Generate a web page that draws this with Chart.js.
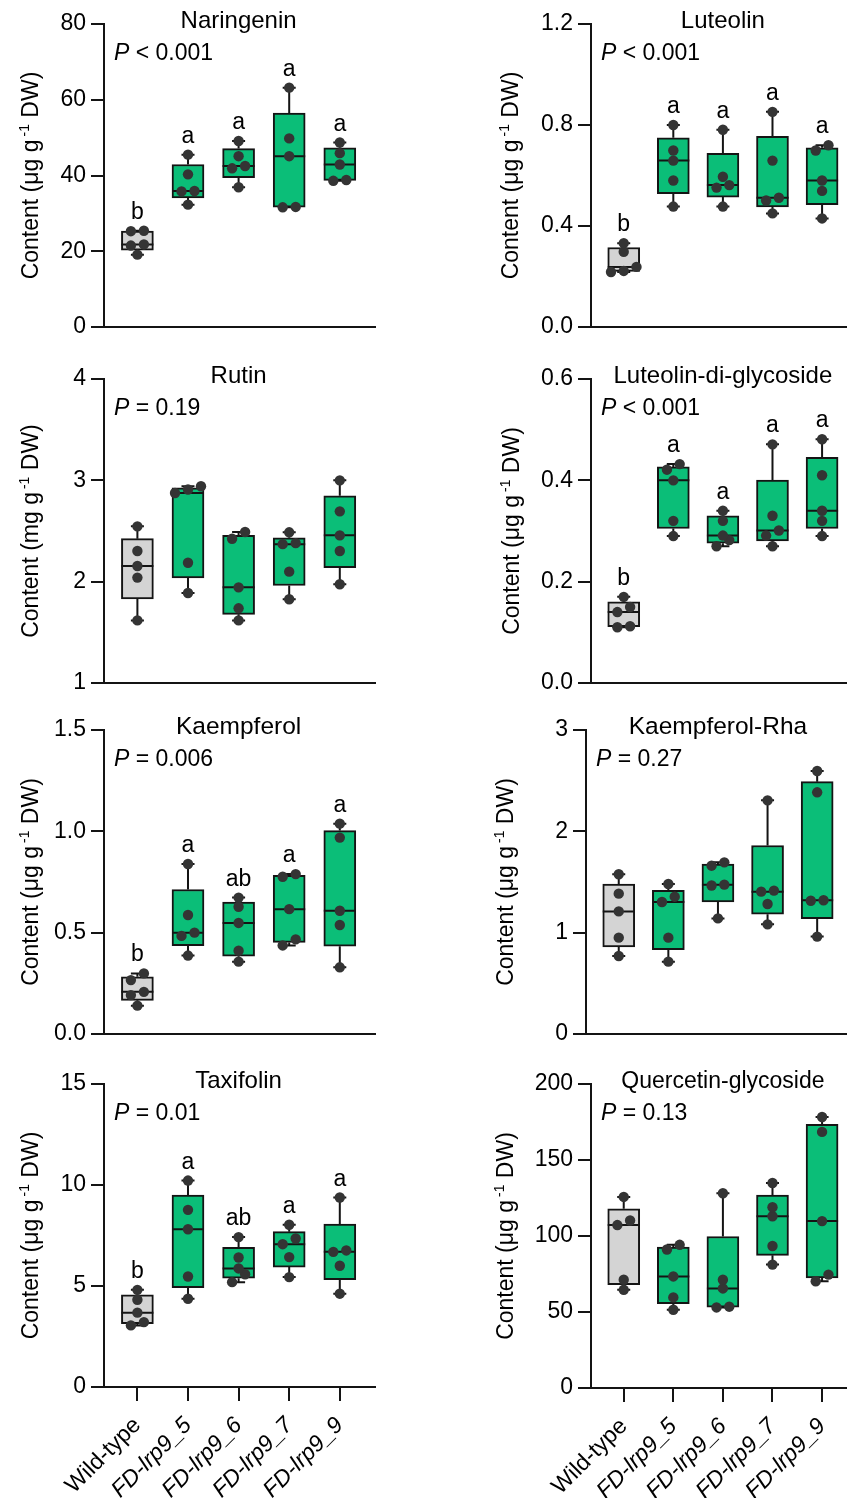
<!DOCTYPE html>
<html>
<head>
<meta charset="utf-8">
<script src="https://cdn.jsdelivr.net/npm/chart.js@4.4.1/dist/chart.umd.min.js"></script>
<style>
  body { margin: 0; background: #fff; }
  #page { position: relative; width: 851px; height: 1498px; overflow: hidden; background: #fff; }
  canvas { position: absolute; }
</style>
</head>
<body>
<div id="page"></div>
<script>
// groups on the x axis
const groups = ["Wild-type", "FD-lrp9_5", "FD-lrp9_6", "FD-lrp9_7", "FD-lrp9_9"];

// five replicates per group
const naringenin = [
  [19.1, 21.5, 21.8, 25.3, 25.4],
  [32.3, 35.8, 35.9, 40.3, 45.5],
  [36.9, 41.9, 42.5, 45.1, 49.1],
  [31.6, 31.7, 45.1, 49.8, 63.2],
  [38.6, 38.8, 42.9, 45.9, 48.7]
];
const luteolin = [
  [0.218, 0.222, 0.238, 0.298, 0.332],
  [0.477, 0.580, 0.659, 0.699, 0.800],
  [0.477, 0.552, 0.562, 0.595, 0.781],
  [0.450, 0.501, 0.512, 0.659, 0.852],
  [0.430, 0.539, 0.580, 0.699, 0.720]
];
const rutin = [
  [1.618, 2.040, 2.155, 2.303, 2.546],
  [1.888, 2.187, 2.875, 2.910, 2.942],
  [1.618, 1.737, 1.944, 2.424, 2.490],
  [1.826, 2.099, 2.370, 2.380, 2.487],
  [1.974, 2.303, 2.457, 2.694, 3.000]
];
const luteolinDiGlycoside = [
  [0.110, 0.112, 0.140, 0.150, 0.170],
  [0.290, 0.320, 0.400, 0.421, 0.432],
  [0.270, 0.282, 0.291, 0.320, 0.340],
  [0.270, 0.291, 0.301, 0.330, 0.471],
  [0.290, 0.320, 0.340, 0.410, 0.481]
];
const kaempferol = [
  [0.140, 0.192, 0.208, 0.266, 0.299],
  [0.387, 0.484, 0.500, 0.587, 0.839],
  [0.357, 0.411, 0.548, 0.628, 0.673],
  [0.437, 0.467, 0.616, 0.776, 0.789],
  [0.329, 0.538, 0.608, 0.969, 1.038]
];
const kaempferolRha = [
  [0.770, 0.951, 1.210, 1.385, 1.576],
  [0.714, 0.951, 1.303, 1.355, 1.480],
  [1.141, 1.465, 1.474, 1.661, 1.694],
  [1.082, 1.283, 1.405, 1.415, 2.306],
  [0.961, 1.315, 1.320, 2.385, 2.595]
];
const taxifolin = [
  [3.05, 3.21, 3.68, 4.32, 4.81],
  [4.37, 5.47, 7.81, 8.77, 10.22],
  [5.19, 5.58, 5.87, 6.41, 7.42],
  [5.44, 6.43, 7.07, 7.35, 8.03],
  [4.62, 6.00, 6.69, 6.76, 9.38]
];
const quercetinGlycoside = [
  [64.6, 71.2, 107.2, 110.2, 125.7],
  [51.5, 59.6, 73.4, 91.1, 94.2],
  [53.0, 53.5, 65.5, 71.2, 128.1],
  [81.2, 93.4, 113.0, 118.9, 134.9],
  [70.2, 74.6, 109.8, 168.5, 178.3]
];

// y tick values
const naringeninTicks = [0, 20, 40, 60, 80];
const luteolinTicks = [0, 0.4, 0.8, 1.2];
const rutinTicks = [1, 2, 3, 4];
const luteolinDiGlycosideTicks = [0, 0.2, 0.4, 0.6];
const kaempferolTicks = [0, 0.5, 1.0, 1.5];
const kaempferolRhaTicks = [0, 1, 2, 3];
const taxifolinTicks = [0, 5, 10, 15];
const quercetinGlycosideTicks = [0, 50, 100, 150, 200];

// significance letters
const naringeninLetters = ["b", "a", "a", "a", "a"];
const luteolinLetters = ["b", "a", "a", "a", "a"];
const luteolinDiGlycosideLetters = ["b", "a", "a", "a", "a"];
const kaempferolLetters = ["b", "a", "ab", "a", "a"];
const taxifolinLetters = ["b", "a", "ab", "a", "a"];

const panels = [
  { title: "Naringenin", values: naringenin, ticks: naringeninTicks, dec: 0, unit: "\u03bcg", p: "< 0.001", letters: naringeninLetters },
  { title: "Luteolin", values: luteolin, ticks: luteolinTicks, dec: 1, unit: "\u03bcg", p: "< 0.001", letters: luteolinLetters },
  { title: "Rutin", values: rutin, ticks: rutinTicks, dec: 0, unit: "mg", p: "= 0.19", letters: [] },
  { title: "Luteolin-di-glycoside", values: luteolinDiGlycoside, ticks: luteolinDiGlycosideTicks, dec: 1, unit: "\u03bcg", p: "< 0.001", letters: luteolinDiGlycosideLetters },
  { title: "Kaempferol", values: kaempferol, ticks: kaempferolTicks, dec: 1, unit: "\u03bcg", p: "= 0.006", letters: kaempferolLetters },
  { title: "Kaempferol-Rha", values: kaempferolRha, ticks: kaempferolRhaTicks, dec: 0, unit: "\u03bcg", p: "= 0.27", letters: [] },
  { title: "Taxifolin", values: taxifolin, ticks: taxifolinTicks, dec: 0, unit: "\u03bcg", p: "= 0.01", letters: taxifolinLetters },
  { title: "Quercetin-glycoside", values: quercetinGlycoside, ticks: quercetinGlycosideTicks, dec: 0, unit: "\u03bcg", p: "= 0.13", letters: [] }
];

// where each panel sits on the page
const frames = [
  { col: 0, axisX: 104, top: 24, bottom: 327, yTitleX: 38, titleSize: 24 },
  { col: 1, axisX: 591, top: 24, bottom: 327, yTitleX: 518, titleSize: 24 },
  { col: 0, axisX: 104, top: 379, bottom: 683, yTitleX: 38, titleSize: 24 },
  { col: 1, axisX: 591, top: 379, bottom: 683, yTitleX: 519, titleSize: 24 },
  { col: 0, axisX: 104, top: 730, bottom: 1034, yTitleX: 38, titleSize: 24.5 },
  { col: 1, axisX: 586, top: 730, bottom: 1034, yTitleX: 513, titleSize: 24.5 },
  { col: 0, axisX: 104, top: 1084, bottom: 1387, yTitleX: 38, titleSize: 24, xLabels: true },
  { col: 1, axisX: 591, top: 1084, bottom: 1388, yTitleX: 513, titleSize: 23, xLabels: true }
];

const FONT = '"Liberation Sans", Arial, Helvetica, sans-serif';
const GREEN = "#0BBE78";
const GRAY = "#D4D4D4";
const INK = "#141414";
const DOT = "#343434";
const PX_PER_GROUP = 50.6;
const X_MIN = -0.66;
const DOT_STEP = 13 / PX_PER_GROUP;
const DOT_GAP = 8;
const PAD_TOP = 22;

// GraphPad style quartiles
function quantile(sorted, p) {
  const pos = (sorted.length + 1) * p - 1;
  const lo = Math.max(0, Math.floor(pos));
  const hi = Math.min(sorted.length - 1, Math.ceil(pos));
  return sorted[lo] + (sorted[hi] - sorted[lo]) * (pos - lo);
}

function boxStats(vals) {
  const s = [...vals].sort((a, b) => a - b);
  return { min: s[0], q1: quantile(s, 0.25), med: quantile(s, 0.5), q3: quantile(s, 0.75), max: s[s.length - 1] };
}

// spread dots that would overlap into rows
function swarm(vals, gi, pxPerUnit) {
  const sorted = [...vals].sort((a, b) => a - b);
  const rows = [];
  sorted.forEach(v => {
    const row = rows[rows.length - 1];
    if (row && (v - row[0]) * pxPerUnit < DOT_GAP) row.push(v);
    else rows.push([v]);
  });
  const pts = [];
  rows.forEach(row => row.forEach((v, k) => {
    pts.push({ x: gi + (k - (row.length - 1) / 2) * DOT_STEP, y: v });
  }));
  return pts;
}

function drawYTitle(ctx, cx, cy, unit) {
  const big = `23px ${FONT}`;
  const small = `14px ${FONT}`;
  const a = `Content (${unit} g`;
  const sup = "-1";
  const b = " DW)";
  ctx.save();
  ctx.translate(cx, cy);
  ctx.rotate(-Math.PI / 2);
  ctx.fillStyle = "#000";
  ctx.textAlign = "left";
  ctx.textBaseline = "alphabetic";
  ctx.font = big;
  const wa = ctx.measureText(a).width;
  const wb = ctx.measureText(b).width;
  ctx.font = small;
  const ws = ctx.measureText(sup).width;
  let x0 = -(wa + ws + wb + 3) / 2;
  ctx.font = big;
  ctx.fillText(a, x0, 0);
  x0 += wa + 3;
  ctx.font = small;
  ctx.fillText(sup, x0, -9);
  x0 += ws;
  ctx.font = big;
  ctx.fillText(b, x0, 0);
  ctx.restore();
}

function buildPanel(panel, frame) {
  const canvasLeft = frame.col === 0 ? 0 : 425;
  const canvasW = frame.col === 0 ? 425 : 426;
  const chartRight = frame.col === 0 ? 375 : 851;
  const plotH = frame.bottom - frame.top;
  const xH = frame.xLabels ? 1498 - frame.bottom : 0;
  const padBottom = frame.xLabels ? 0 : 20;
  const canvasTop = frame.top - PAD_TOP;
  const canvasH = PAD_TOP + plotH + xH + padBottom;

  const canvas = document.createElement("canvas");
  canvas.width = canvasW;
  canvas.height = canvasH;
  canvas.style.left = canvasLeft + "px";
  canvas.style.top = canvasTop + "px";
  canvas.style.width = canvasW + "px";
  canvas.style.height = canvasH + "px";
  document.getElementById("page").appendChild(canvas);

  const yMin = panel.ticks[0];
  const yMax = panel.ticks[panel.ticks.length - 1];
  const stats = panel.values.map(boxStats);
  const boxData = stats.map((s, i) => ({ x: i, y: [s.q1, s.q3] }));
  const dots = [];
  panel.values.forEach((vals, i) => dots.push(...swarm(vals, i, plotH / (yMax - yMin))));

  const boxParts = {
    id: "boxParts",
    afterDatasetDraw(chart, args) {
      if (args.index !== 0) return;
      const { ctx, scales: { x, y } } = chart;
      ctx.save();
      ctx.strokeStyle = INK;
      ctx.lineWidth = 2;
      ctx.lineCap = "butt";
      stats.forEach((s, i) => {
        const cx = x.getPixelForValue(i);
        const pMax = y.getPixelForValue(s.max);
        const pMin = y.getPixelForValue(s.min);
        ctx.beginPath();
        ctx.moveTo(cx, y.getPixelForValue(s.q3));
        ctx.lineTo(cx, pMax);
        ctx.moveTo(cx - 6.5, pMax);
        ctx.lineTo(cx + 6.5, pMax);
        ctx.moveTo(cx, y.getPixelForValue(s.q1));
        ctx.lineTo(cx, pMin);
        ctx.moveTo(cx - 6.5, pMin);
        ctx.lineTo(cx + 6.5, pMin);
        const pMed = y.getPixelForValue(s.med);
        ctx.moveTo(cx - 16, pMed);
        ctx.lineTo(cx + 16, pMed);
        ctx.stroke();
      });
      ctx.restore();
    },
    afterDraw(chart) {
      const { ctx, chartArea, scales: { x, y } } = chart;
      ctx.save();
      ctx.fillStyle = "#000";
      ctx.textBaseline = "alphabetic";

      // panel title
      ctx.font = `${frame.titleSize}px ${FONT}`;
      ctx.textAlign = "center";
      ctx.fillText(panel.title, x.getPixelForValue(2), chartArea.top + 4);

      // P value
      ctx.textAlign = "left";
      ctx.font = `italic 23px ${FONT}`;
      const px = chartArea.left + 10;
      const py = chartArea.top + 36;
      ctx.fillText("P", px, py);
      const wp = ctx.measureText("P").width;
      ctx.font = `23px ${FONT}`;
      ctx.fillText(" " + panel.p, px + wp, py);

      // letters above the whiskers
      ctx.textAlign = "center";
      panel.letters.forEach((l, i) => {
        ctx.fillText(l, x.getPixelForValue(i), y.getPixelForValue(stats[i].max) - 12);
      });
      ctx.restore();

      drawYTitle(ctx, frame.yTitleX - canvasLeft, (chartArea.top + chartArea.bottom) / 2, panel.unit);
    }
  };

  new Chart(canvas, {
    type: "bar",
    data: {
      datasets: [
        {
          type: "bar",
          data: boxData,
          backgroundColor: groups.map((g, i) => (i === 0 ? GRAY : GREEN)),
          borderColor: INK,
          borderWidth: 2,
          borderSkipped: false,
          barThickness: 32,
          order: 2
        },
        {
          type: "scatter",
          data: dots,
          pointRadius: 5.2,
          pointHoverRadius: 5.2,
          pointBackgroundColor: DOT,
          pointBorderWidth: 0,
          order: 1
        }
      ]
    },
    options: {
      responsive: false,
      animation: false,
      devicePixelRatio: 1,
      events: [],
      layout: { padding: { top: PAD_TOP, bottom: padBottom, left: 0, right: frame.col === 0 ? 425 - chartRight : 0 } },
      plugins: { legend: { display: false }, tooltip: { enabled: false } },
      scales: {
        x: {
          type: "linear",
          min: X_MIN,
          max: X_MIN + (chartRight - frame.axisX) / PX_PER_GROUP,
          offset: false,
          border: { display: true, color: INK, width: 2 },
          grid: {
            display: !!frame.xLabels,
            offset: false,
            drawOnChartArea: false,
            drawTicks: true,
            tickLength: 14,
            color: INK,
            lineWidth: 2
          },
          afterBuildTicks: s => { s.ticks = groups.map((g, i) => ({ value: i })); },
          afterFit: s => { s.height = xH; s.paddingLeft = 0; s.paddingRight = 0; },
          ticks: {
            display: !!frame.xLabels,
            autoSkip: false,
            minRotation: 45,
            maxRotation: 45,
            padding: 11,
            color: "#000",
            font: c => ({ family: FONT, size: 23, style: c.index === 0 ? "normal" : "italic" }),
            callback: v => groups[v]
          }
        },
        y: {
          type: "linear",
          min: yMin,
          max: yMax,
          border: { display: true, color: INK, width: 2 },
          grid: {
            display: true,
            drawOnChartArea: false,
            drawTicks: true,
            tickLength: 13,
            color: INK,
            lineWidth: 2
          },
          afterBuildTicks: s => { s.ticks = panel.ticks.map(v => ({ value: v })); },
          afterFit: s => { s.width = frame.axisX - canvasLeft; },
          ticks: {
            padding: 5,
            color: "#000",
            font: { family: FONT, size: 23 },
            callback: v => Number(v).toFixed(panel.dec)
          }
        }
      }
    },
    plugins: [boxParts]
  });
}

panels.forEach((p, i) => buildPanel(p, frames[i]));
</script>
</body>
</html>
